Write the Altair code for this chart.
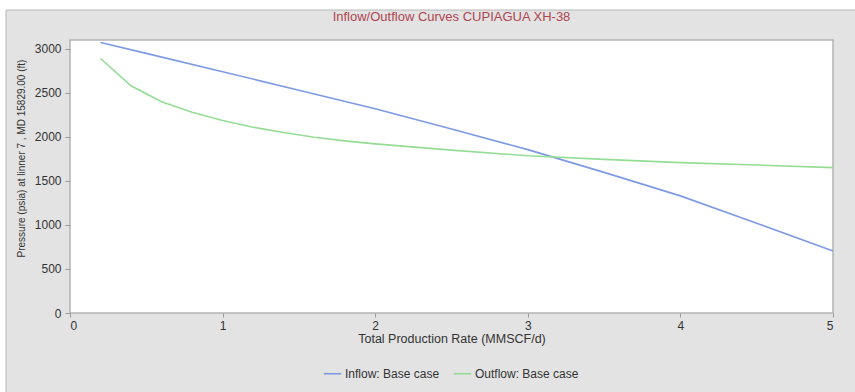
import altair as alt
import pandas as pd

# Inflow (IPR) curve: rate in MMSCF/d, pressure in psia
inflow_rate = [0.2, 0.5, 1.0, 1.5, 2.0, 2.5, 3.0, 3.5, 4.0, 4.5, 5.0]
inflow_pres = [3072, 2948, 2740, 2530, 2320, 2090, 1855, 1597, 1330, 1020, 705]

# Outflow (VLP) curve
outflow_rate = [0.2, 0.4, 0.6, 0.8, 1.0, 1.2, 1.4, 1.6, 1.8, 2.0, 2.5, 3.0, 3.5, 4.0, 4.5, 5.0]
outflow_pres = [2890, 2580, 2400, 2280, 2185, 2110, 2050, 1995, 1955, 1920, 1850, 1785, 1745, 1708, 1680, 1651]

series_names = ["Inflow: Base case", "Outflow: Base case"]
series_colors = ["#7f9ae4", "#95dc95"]

df = pd.concat([
    pd.DataFrame({"rate": inflow_rate, "pressure": inflow_pres, "series": series_names[0]}),
    pd.DataFrame({"rate": outflow_rate, "pressure": outflow_pres, "series": series_names[1]}),
])

FONT = "Liberation Sans"
W, H = 763, 273

lines = alt.Chart(df).mark_line(strokeWidth=1.6).encode(
    x=alt.X("rate:Q",
            scale=alt.Scale(domain=[0, 5], nice=False),
            axis=alt.Axis(title="Total Production Rate (MMSCF/d)", values=[0, 1, 2, 3, 4, 5],
                          format="d", domain=False, grid=False, tickColor="#9a9a9a",
                          tickSize=4, labelPadding=3, labelFontSize=12, labelColor="#333333",
                          titleFontSize=12.5, titleFontWeight="normal", titleColor="#333333",
                          titlePadding=1, labelFont=FONT, titleFont=FONT)),
    y=alt.Y("pressure:Q",
            scale=alt.Scale(domain=[0, 3100], nice=False),
            axis=alt.Axis(title="Pressure (psia) at linner 7 , MD 15829.00 (ft)",
                          values=[0, 500, 1000, 1500, 2000, 2500, 3000], format="d",
                          domain=False, grid=False, tickColor="#9a9a9a", tickSize=5,
                          labelPadding=4, labelFontSize=12, labelColor="#333333",
                          titleFontSize=10, titleFontWeight="normal", titleColor="#333333",
                          titleX=-44, titleY=118, labelFont=FONT, titleFont=FONT)),
    color=alt.Color("series:N",
                    scale=alt.Scale(domain=series_names, range=series_colors),
                    legend=alt.Legend(title=None, orient="none", direction="horizontal",
                                      legendX=253, legendY=324, symbolType="stroke",
                                      symbolSize=300, symbolStrokeWidth=1.6,
                                      labelFontSize=12, labelColor="#333333", labelFont=FONT,
                                      columnPadding=10, labelOffset=3)),
)

# white strip above and left of the panel frame, plus its frame lines
outer = pd.DataFrame({"k": [0]})
strip_top = alt.Chart(outer).mark_rect(color="white").encode(
    x=alt.value(-70), x2=alt.value(W + 22), y=alt.value(-40), y2=alt.value(-30))
strip_left = alt.Chart(outer).mark_rect(color="white").encode(
    x=alt.value(-70), x2=alt.value(-64), y=alt.value(-30), y2=alt.value(H + 79))
frame_top = alt.Chart(outer).mark_rule(color="#b8b8b8", strokeWidth=1).encode(
    x=alt.value(-64), x2=alt.value(W + 22), y=alt.value(-30))
frame_left = alt.Chart(outer).mark_rule(color="#b8b8b8", strokeWidth=1).encode(
    x=alt.value(-64), y=alt.value(-30), y2=alt.value(H + 79))

title = alt.Chart(outer).mark_text(
    text="Inflow/Outflow Curves CUPIAGUA XH-38", font=FONT, fontSize=13,
    color="#b0454f", align="center", baseline="middle"
).encode(x=alt.value(W / 2), y=alt.value(-23))

chart = alt.layer(strip_top, strip_left, frame_top, frame_left, title, lines).properties(
    width=W, height=H,
    autosize=alt.AutoSizeParams(type="none"),
    padding={"left": 70, "top": 40, "right": 22, "bottom": 79},
    background="#e3e3e3",
).configure_view(fill="white", stroke="#b4b4b4", strokeWidth=1.5)

chart.save("out.html", embed_options={"renderer": "svg", "actions": False})
